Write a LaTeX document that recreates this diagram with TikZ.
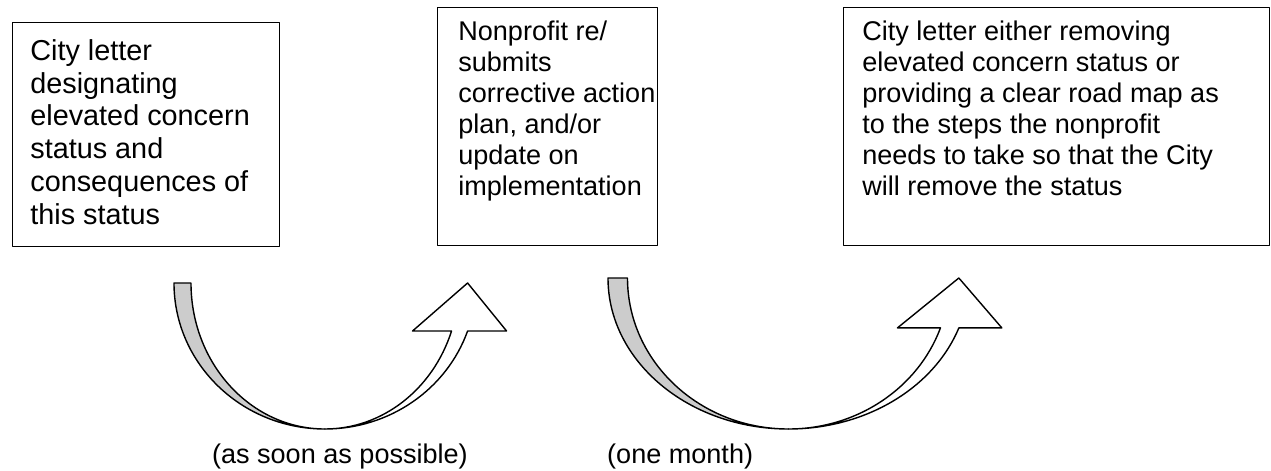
\documentclass[tikz,border=0pt]{standalone}
\usepackage{fontspec}
\setmainfont{Liberation Sans}
\usetikzlibrary{positioning}

\begin{document}
\begin{tikzpicture}[
	line cap=round,
	line join=round,
	every node/.style={font=\fontsize{15.4}{17.6}\selectfont},
	stagebox/.style={draw, line width=0.8pt, inner sep=0pt, anchor=north west},
	stagetext/.style={align=left, inner sep=0pt},
	bandline/.style={line width=0.8pt}
	]
	\useasboundingbox (0,0) rectangle (25.42,9.4);
	
	% Boxes
	\node[stagebox, minimum width=5.34cm, minimum height=4.48cm] (letter) at (0.24,8.96) {};
	\node[stagebox, minimum width=4.40cm, minimum height=4.76cm] (plan) at (8.74,9.26) {};
	\node[stagebox, minimum width=8.52cm, minimum height=4.76cm] (outcome) at (16.86,9.26) {};
	
	% Box texts
	\node[stagetext, font=\fontsize{16.4}{18.7}\selectfont,
	below right=0.34cm and 0.36cm of letter.north west] (lettertext)
	{City letter\\designating\\elevated concern\\status and\\consequences of\\this status};
	\node[stagetext, below right=0.28cm and 0.42cm of plan.north west] (plantext)
	{Nonprofit re/\\submits\\corrective action\\plan, and/or\\update on\\implementation};
	\node[stagetext, below right=0.28cm and 0.38cm of outcome.north west] (outcometext)
	{City letter either removing\\elevated concern status or\\providing a clear road map as\\to the steps the nonprofit\\needs to take so that the City\\will remove the status};
	
	% Curved arrows
	\foreach \cx/\cy/\rout/\rin/\ry/\ang/\wing in {
		6.50/3.74/3.02/2.68/2.92/19.2/0.78,
		15.77/3.84/3.61/3.22/3.02/19.3/0.86
	}
	{
		\draw[bandline, fill=black!20]
		(\cx-\rout,\cy) arc[start angle=180, end angle=270, x radius=\rout, y radius=\ry]
		arc[start angle=270, end angle=180, x radius=\rin, y radius=\ry] -- cycle;
		\draw[bandline, fill=white]
		(\cx,\cy-\ry) arc[start angle=270, end angle=360-\ang, x radius=\rout, y radius=\ry]
		-- ++(\wing,0) -- ++(-\wing,{\ry*sin(\ang)})
		-- ++({-\wing-(\rout-\rin)*cos(\ang)},{-\ry*sin(\ang)})
		-- ++(\wing,0)
		arc[start angle=360-\ang, end angle=270, x radius=\rin, y radius=\ry] -- cycle;
	}
	
	% Time labels
	\node[anchor=base east] (soon) at (9.48,0.14) {(as soon as possible)};
	\node[anchor=base west] (month) at (12.02,0.14) {(one month)};
	
\end{tikzpicture}
\end{document}
